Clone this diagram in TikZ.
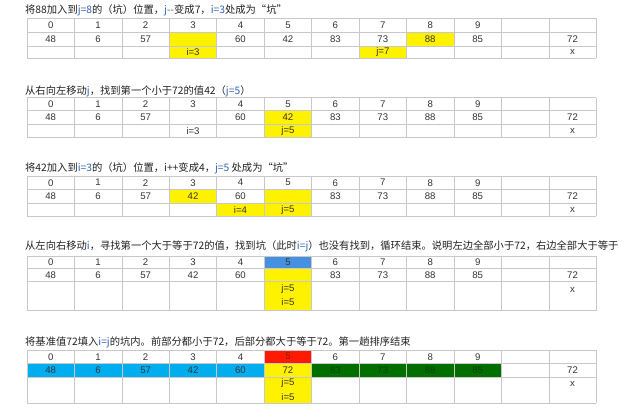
\documentclass[tikz,border=0pt]{standalone}
\usepackage{fontspec}
\setmainfont{Liberation Sans}
\newfontfamily\cjk{Noto Sans CJK SC}
\definecolor{gridgray}{HTML}{C8C8C8}
\definecolor{cellgray}{HTML}{333333}
\definecolor{titlegray}{HTML}{222222}
\definecolor{ijblue}{HTML}{2F63B5}
\definecolor{hlyellow}{HTML}{FFF200}
\definecolor{hlblue}{HTML}{4690E2}
\definecolor{hlcyan}{HTML}{00AEEF}
\definecolor{hlred}{HTML}{FF1A00}
\definecolor{hlgreen}{HTML}{006F00}
\definecolor{darkgreentext}{HTML}{0B3F0B}
\definecolor{darkredtext}{HTML}{8A1A00}
\newcommand\cx[1]{27+47.44*#1}
\newcommand\cellfill[4]{\fill[#1] ({27+47.44*#2},#3) rectangle ({27+47.44*(#2+1)},#4);}
\newcommand\tgrid[4]{%
  \foreach \k in {0,...,12} \draw[gridline] ({27+47.44*\k},#1) -- ({27+47.44*\k},#4);
  \foreach \yy in {#1,#2,#3,#4} \draw[gridline] (27,\yy) -- (596.3,\yy);}
\newcommand\trow[3]{\foreach \v [count=\k from 0] in {#3} \node[cell] (#1-\k) at ({27+47.44*(\k+0.5)},#2) {\v};}
\newcommand\ijc[1]{\textcolor{ijblue}{#1}}
\begin{document}
\begin{tikzpicture}[x=1pt,y=-1pt,
  gridline/.style={draw=gridgray,line width=0.6pt},
  cell/.style={font=\fontsize{9.6}{10}\selectfont, text=cellgray, inner sep=0pt},
  title/.style={anchor=west, font=\cjk\fontsize{10.3}{12}\selectfont, inner sep=0pt, text=titlegray}]
\useasboundingbox (0,0) rectangle (635,419);
\clip (0,0) rectangle (635,419);
\fill[white] (0,0) rectangle (635,419);

% ---------- Table 1 ----------
\node[title] (title1) at (25,10.7) {将88加入到\ijc{j=8}的（坑）位置，\ijc{j--}变成7，\ijc{i=3}处成为“坑”};
\cellfill{hlyellow}{3}{32.3}{58.3}
\cellfill{hlyellow}{8}{32.3}{46}
\cellfill{hlyellow}{7}{46}{58.3}
\tgrid{18.3}{32.3}{46}{58.3}
\trow{ta}{25.3}{0,1,2,3,4,5,6,7,8,9,{},{}}
\trow{tb}{39.2}{48,6,57,{},60,42,83,73,88,85,{},72}
\trow{tc}{52.2}{{},{},{},i=3,{},{},{},j=7,{},{},{},x}

% ---------- Table 2 ----------
\node[title] (title2) at (25,91) {从右向左移动\ijc{j}，找到第一个小于72的值42（\ijc{j=5}）};
\cellfill{hlyellow}{5}{110.7}{137.3}
\tgrid{97.7}{110.7}{124.3}{137.3}
\trow{ua}{104.2}{0,1,2,3,4,5,6,7,8,9,{},{}}
\trow{ub}{117.5}{48,6,57,{},60,42,83,73,88,85,{},72}
\trow{uc}{130.8}{{},{},{},i=3,{},j=5,{},{},{},{},{},x}

% ---------- Table 3 ----------
\node[title] (title3) at (25,168.3) {将42加入到\ijc{i=3}的（坑）位置，i++变成4，\ijc{j=5} 处成为“坑”};
\cellfill{hlyellow}{3}{189.3}{203.3}
\cellfill{hlyellow}{5}{189.3}{216}
\cellfill{hlyellow}{4}{203.3}{216}
\tgrid{176}{189.3}{203.3}{216}
\trow{va}{182.7}{0,1,2,3,4,5,6,7,8,9,{},{}}
\trow{vb}{196.3}{48,6,57,42,60,{},83,73,88,85,{},72}
\trow{vc}{209.7}{{},{},{},{},i=4,j=5,{},{},{},{},{},x}

% ---------- Table 4 ----------
\node[title] (title4) at (25,246) {从左向右移动\ijc{i}，寻找第一个大于等于72的值，找到坑（此时\ijc{i=j}）也没有找到，循环结束。说明左边全部小于72，右边全部大于等于};
\cellfill{hlblue}{5}{256}{268.3}
\cellfill{hlyellow}{5}{268.3}{310.7}
\tgrid{256}{268.3}{281.7}{310.7}
\trow{wa}{262.2}{0,1,2,3,4,5,6,7,8,9,{},{}}
\trow{wb}{275}{48,6,57,42,60,{},83,73,88,85,{},72}
\node[cell] (wj) at ({\cx{5.5}},288.7) {j=5};
\node[cell] (wi) at ({\cx{5.5}},302) {i=5};
\node[cell] (wx) at ({\cx{11.5}},290) {x};

% ---------- Table 5 ----------
\node[title] (title5) at (25,342.7) {将基准值72填入\ijc{i=j}的坑内。前部分都小于72，后部分都大于等于72。第一趟排序结束};
\cellfill{hlred}{5}{350}{363.3}
\fill[hlcyan] ({\cx{0}},363.3) rectangle ({\cx{5}},377.3);
\cellfill{hlyellow}{5}{363.3}{403.3}
\fill[hlgreen] ({\cx{6}},363.3) rectangle ({\cx{10}},377.3);
\tgrid{350}{363.3}{377.3}{403.3}
\trow{xa}{356.7}{0,1,2,3,4,\textcolor{darkredtext}{5},6,7,8,9,{},{}}
\trow{xb}{370.3}{48,6,57,42,60,72,\textcolor{darkgreentext}{83},\textcolor{darkgreentext}{73},\textcolor{darkgreentext}{88},\textcolor{darkgreentext}{85},{},72}
\node[cell] (xj) at ({\cx{5.5}},383.3) {j=5};
\node[cell] (xi) at ({\cx{5.5}},396.7) {i=5};
\node[cell] (xx) at ({\cx{11.5}},384) {x};
\end{tikzpicture}
\end{document}
